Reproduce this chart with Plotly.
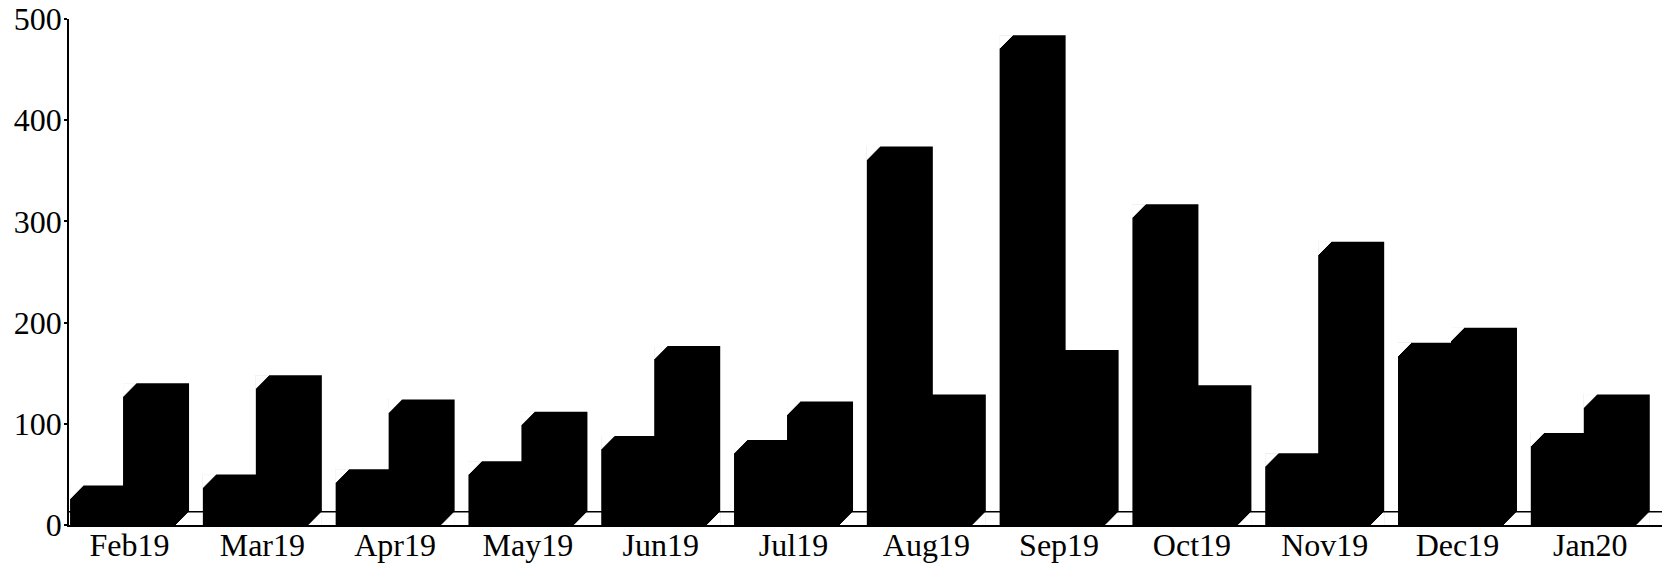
import plotly.graph_objects as go

months = ["Feb19", "Mar19", "Apr19", "May19", "Jun19", "Jul19",
          "Aug19", "Sep19", "Oct19", "Nov19", "Dec19", "Jan20"]
series_a = [39, 50, 55, 63, 88, 84, 374, 484, 317, 71, 180, 91]
series_b = [140, 148, 124, 112, 177, 122, 129, 173, 138, 280, 195, 129]
y_ticks = [0, 100, 200, 300, 400, 500]

FLOOR = 13
BEVEL_Y = 13
BEVEL_X = 0.098
BAR_W = 0.497
OFF_A = -0.448
OFF_B = -0.049
FONT = "Liberation Serif"

pos = list(range(len(months)))
fig = go.Figure()
fig.add_trace(go.Bar(x=pos, y=series_a, width=BAR_W, offset=OFF_A, marker=dict(color="#000000", line=dict(width=0)), name="A"))
fig.add_trace(go.Bar(x=pos, y=series_b, width=BAR_W, offset=OFF_B, marker=dict(color="#000000", line=dict(width=0)), name="B"))

# white cut-outs that give each bar its bevelled corners
tx, ty = [], []
for i, (a, b) in enumerate(zip(series_a, series_b)):
    xa = i + OFF_A
    tx += [xa, xa + BEVEL_X, xa, xa, None]
    ty += [a, a, a - BEVEL_Y, a, None]
    xb = i + OFF_B
    if b > a:
        tx += [xb, xb + BEVEL_X, xb, xb, None]
        ty += [b, b, b - BEVEL_Y, b, None]
    xr = xb + BAR_W
    tx += [xr - BEVEL_X, xr, xr, xr - BEVEL_X, None]
    ty += [0, FLOOR, 0, 0, None]
fig.add_trace(go.Scatter(x=tx, y=ty, mode="lines", fill="toself", fillcolor="#ffffff",
                         line=dict(width=1, color="#ffffff"), hoverinfo="skip", showlegend=False))

fig.add_shape(type="line", xref="paper", x0=0, x1=1, yref="y", y0=FLOOR, y1=FLOOR,
              line=dict(color="#000000", width=1.5), layer="above")

fig.update_layout(
    width=1662, height=565,
    margin=dict(l=69, r=0, t=19, b=40),
    barmode="overlay", showlegend=False,
    paper_bgcolor="#ffffff", plot_bgcolor="#ffffff",
    font=dict(family=FONT, color="#000000", size=30),
    xaxis=dict(range=[-0.456, 11.54], tickmode="array", tickvals=pos, ticktext=months, automargin=False,
               showgrid=False, zeroline=False, showline=True, linecolor="#000000", linewidth=1.5,
               ticks="", ticklabelstandoff=-9, tickfont=dict(family=FONT, size=32, color="#000000")),
    yaxis=dict(range=[0, 500], tickmode="array", tickvals=y_ticks, showgrid=False, zeroline=False, automargin=False,
               showline=True, linecolor="#000000", linewidth=1.5, ticks="outside", ticklen=3,
               tickwidth=1.5, tickcolor="#000000", ticklabelstandoff=-4,
               tickfont=dict(family=FONT, size=32, color="#000000")),
)
fig.write_html("out.html", config=dict(displayModeBar=False),
               post_script="document.body.style.margin='0';")
